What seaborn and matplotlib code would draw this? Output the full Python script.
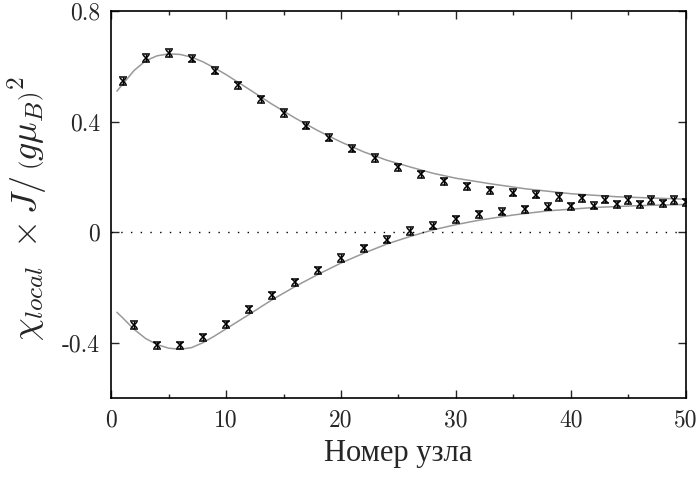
import numpy as np
import matplotlib
matplotlib.use('Agg')
import matplotlib.pyplot as plt
import seaborn as sns
import pandas as pd
from matplotlib.ticker import MultipleLocator

# points: odd nodes (upper branch), even nodes (lower branch)
x_odd = [1, 3, 5, 7, 9, 11, 13, 15, 17, 19, 21, 23, 25, 27, 29, 31, 33, 35, 37, 39, 41, 43, 45, 47, 49]
y_odd = [0.547, 0.630, 0.648, 0.627, 0.584, 0.532, 0.481, 0.431, 0.385, 0.341, 0.302, 0.268, 0.235,
         0.209, 0.184, 0.166, 0.152, 0.142, 0.136, 0.127, 0.122, 0.118, 0.116, 0.116, 0.116]
x_even = [2, 4, 6, 8, 10, 12, 14, 16, 18, 20, 22, 24, 26, 28, 30, 32, 34, 36, 38, 40, 42, 44, 46, 48, 50]
y_even = [-0.336, -0.410, -0.410, -0.380, -0.333, -0.279, -0.229, -0.181, -0.138, -0.094, -0.058,
          -0.028, 0.004, 0.023, 0.046, 0.064, 0.074, 0.082, 0.092, 0.094, 0.095, 0.100, 0.100, 0.104, 0.108]
err_odd = [0.013] * len(x_odd)
err_even = [0.013] * len(x_even)

# theory curves (grey)
x_cu = [0.5, 1, 2, 3, 4, 5, 6, 7, 8, 9, 10, 12, 14, 16, 18, 20, 22, 24, 26, 28, 30, 33, 36, 40, 44, 50]
y_cu = [0.510, 0.535, 0.585, 0.620, 0.638, 0.645, 0.643, 0.633, 0.616, 0.594, 0.570, 0.517, 0.463,
        0.413, 0.367, 0.326, 0.290, 0.260, 0.236, 0.213, 0.195, 0.175, 0.157, 0.139, 0.128, 0.119]
x_cl = [0.5, 1, 2, 3, 4, 5, 6, 7, 8, 9, 10, 12, 14, 16, 18, 20, 22, 24, 26, 28, 30, 32, 35, 38, 42, 46, 50]
y_cl = [-0.290, -0.310, -0.352, -0.385, -0.407, -0.420, -0.424, -0.418, -0.400, -0.376, -0.350, -0.298,
        -0.245, -0.197, -0.153, -0.112, -0.076, -0.043, -0.016, 0.008, 0.027, 0.043, 0.062, 0.077, 0.089,
        0.096, 0.100]

yticks = [-0.4, 0, 0.4, 0.8]
ytick_labels = ['-0.4', '0', '0.4', '0.8']

sns.set_style('ticks')
plt.rcParams['font.family'] = ['cmr10', 'Liberation Serif', 'DejaVu Serif']
plt.rcParams['mathtext.fontset'] = 'cm'
plt.rcParams['axes.unicode_minus'] = False

fig = plt.figure(figsize=(6.99, 4.80), dpi=100)
ax = fig.add_axes([0.159, 0.171, 0.822, 0.806])

cu = pd.DataFrame({'x': x_cu, 'y': y_cu})
cl = pd.DataFrame({'x': x_cl, 'y': y_cl})
sns.lineplot(data=cu, x='x', y='y', ax=ax, color='#999999', lw=1.1, sort=True)
sns.lineplot(data=cl, x='x', y='y', ax=ax, color='#999999', lw=1.1, sort=True)

ax.axhline(0, color='black', lw=1.0, ls=(0, (1, 6)))

for xs, ys, es in [(x_odd, y_odd, err_odd), (x_even, y_even, err_even)]:
    ax.errorbar(xs, ys, yerr=es, fmt='x', color='black', ms=4.5, mew=1.1,
                elinewidth=1.0, capsize=3, capthick=1.0, zorder=5)

ax.set_xlim(0, 50)
ax.set_ylim(-0.6, 0.8)
ax.xaxis.set_major_locator(MultipleLocator(10))
ax.xaxis.set_minor_locator(MultipleLocator(5))
ax.set_yticks(yticks)
ax.set_yticklabels(ytick_labels)
ax.tick_params(which='both', direction='in', top=True, right=True, labelsize=17, width=1.0)
ax.tick_params(which='major', length=6, pad=8)
ax.tick_params(which='minor', length=3)
for lab in ax.get_xticklabels() + ax.get_yticklabels():
    lab.set_fontfamily('cmr10')
for s in ax.spines.values():
    s.set_linewidth(1.2)
    s.set_color('black')

ax.set_xlabel('Номер узла', fontsize=22, family=['Liberation Serif'], labelpad=6)
ax.set_ylabel(r'$\chi_{local}\ \times J/\,\left(g\mu_B\right)^2$', fontsize=26)
ax.yaxis.set_label_coords(-0.106, 0.49)

fig.savefig('out.png', dpi=100)
